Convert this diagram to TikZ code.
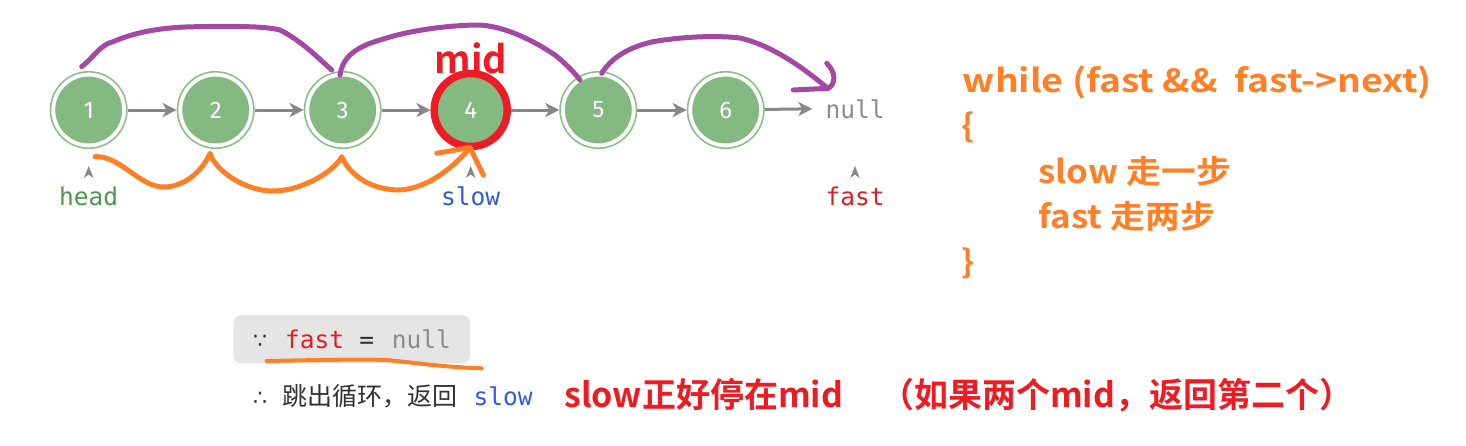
\documentclass[tikz,border=0pt]{standalone}
\usepackage{fontspec}
\setmainfont{Fira Sans}
\newfontfamily\monofont{DejaVu Sans Mono}
\newfontfamily\symfont{DejaVu Sans}
\newfontfamily\cjk{Noto Sans CJK SC}
\newfontfamily\cjkb{Noto Sans CJK SC Bold}
\newfontfamily\cjkbwide{Noto Sans CJK SC Bold}[FakeStretch=1.164]
\newfontfamily\cjkbmid{Noto Sans CJK SC Bold}[FakeStretch=1.09]
\usetikzlibrary{arrows.meta}
\definecolor{nodegreen}{RGB}{132,186,130}
\definecolor{ringgreen}{RGB}{140,192,138}
\definecolor{arrgray}{RGB}{136,136,136}
\definecolor{midred}{RGB}{237,28,36}
\definecolor{fastred}{RGB}{220,30,40}
\definecolor{slowblue}{RGB}{50,90,220}
\definecolor{headgreen}{RGB}{80,150,80}
\definecolor{codeorange}{RGB}{255,127,39}
\definecolor{hpurple}{RGB}{163,73,164}
\definecolor{boxgray}{RGB}{229,229,229}
\definecolor{txtgray}{RGB}{50,50,50}
\definecolor{nullgray}{RGB}{140,140,140}
\tikzset{
  lnode/.style={circle, fill=nodegreen, draw=white, line width=3.5pt, minimum size=70.5pt, inner sep=0pt, outer sep=3.8pt, text=white, font=\fontsize{24}{28}\selectfont},
  ring/.style={draw=ringgreen, line width=1.6pt},
  arr/.style={draw=arrgray, line width=3pt, -{Stealth[length=14pt,width=14pt,inset=4pt]}},
  mono/.style={font=\monofont\fontsize{24.5}{28}\selectfont, inner sep=0pt},
  marker/.style={fill=arrgray},
  purple/.style={draw=hpurple, line width=5pt, line cap=round, line join=round},
  orange/.style={draw=codeorange, line width=5pt, line cap=round, line join=round},
  code/.style={font=\cjkbmid\fontsize{32}{36}\selectfont, text=codeorange, anchor=base west, inner sep=0pt},
  redtxt/.style={font=\cjkb\fontsize{34}{38}\selectfont, text=midred, anchor=base west, inner sep=0pt},
}
\begin{document}
\begin{tikzpicture}[x=1pt,y=-1pt]
\useasboundingbox (0,0) rectangle (1466,445);
% list nodes
\foreach \i/\x in {1/88.7,2/215.7,3/342.7,5/598.3,6/725.7}{
  \node[lnode] (n\i) at (\x,110) {\i};
  \draw[ring] (n\i.center) circle (38.2);
}
\node[lnode, draw=midred, line width=7.5pt, minimum size=73pt, outer sep=3.7pt] (n4) at (470.7,110) {4};
\node[mono, text=nullgray, anchor=base] (null) at (855,118) {null};
\draw[arr] (n1) -- (n2);
\draw[arr] (n2) -- (n3);
\draw[arr] (n3) -- (n4);
\draw[arr] (n4) -- (n5);
\draw[arr] (n5) -- (n6);
\draw[arr] (n6) -- ([xshift=-13pt]null.west);
% mid label
\node[font=\cjkb\fontsize{38}{40}\selectfont, text=midred, anchor=base, inner sep=0pt] (mid) at (471,73) {mid};
% pointer labels
\node[mono, text=headgreen, anchor=base] (head) at (88.7,205) {head};
\node[mono, text=slowblue, anchor=base] (slow) at (470.7,205) {slow};
\node[mono, text=fastred, anchor=base] (fast) at (855,205) {fast};
\foreach \p/\x in {head/88.7,slow/470.7,fast/855}{
  \fill[marker] (\x,166) -- (\x+4.8,178) -- (\x,174.5) -- (\x-4.8,178) -- cycle;
}
% purple hops (fast)
\draw[purple] (81.7,66.7) .. controls (95,56) and (100,45) .. (113,41.7)
  .. controls (140,30) and (170,27) .. (196.7,26.7)
  .. controls (230,26) and (265,26) .. (280,30)
  .. controls (300,40) and (315,55) .. (331.7,70);
\draw[purple] (340,75) .. controls (342,60) and (352,48) .. (380,40)
  .. controls (410,30) and (450,25) .. (480,25)
  .. controls (510,27) and (540,45) .. (555,55)
  .. controls (565,63) and (575,73) .. (580,80);
\draw[purple] (601.7,73.3) .. controls (610,60) and (625,48) .. (653,41.7)
  .. controls (680,37) and (715,35) .. (740,38)
  .. controls (770,45) and (800,65) .. (826.7,87.5);
\draw[purple] (826.7,63.3) .. controls (836,72) and (836,84) .. (828.3,88.3) -- (793.3,90);
% orange hops (slow)
\draw[orange] (95,156.7) .. controls (120,155) and (140,188) .. (165,187)
  .. controls (190,186) and (205,165) .. (210,153.3)
  .. controls (215,170) and (245,192) .. (275,191)
  .. controls (305,190) and (335,170) .. (341.7,156.7)
  .. controls (350,175) and (370,190) .. (400,190)
  .. controls (430,188) and (455,165) .. (470,148);
\draw[orange] (436.7,153.3) -- (470,147.5) -- (483.3,175);
% right code block
\node[code, font=\cjkbwide\fontsize{32}{36}\selectfont] (c1) at (962.7,92.7) {while (fast \&\&\ \ fast->next)};
\node[code] (c2) at (961.7,137.7) {\{};
\node[code] (c3) at (1038.3,183.3) {slow 走一步};
\node[code] (c4) at (1038.3,228.3) {fast 走两步};
\node[code] (c5) at (961.7,273) {\}};
% bottom explanation
\fill[boxgray, rounded corners=8pt] (233.3,315) rectangle (470,363.3);
\node[font=\symfont\fontsize{22}{26}\selectfont, text=txtgray, anchor=base, inner sep=0pt] (because) at (260,348) {∵};
\node[mono, text=fastred, anchor=base west] (bfast) at (285,348) {fast};
\node[mono, text=txtgray, anchor=base] (eq) at (366.7,348) {=};
\node[mono, text=nullgray, anchor=base west] (bnull) at (391.7,348) {null};
\draw[orange, line width=4pt] (266.7,361) .. controls (320,360) and (360,359) .. (386.7,360)
  .. controls (410,362) and (440,367) .. (481.7,368.3);
\node[font=\symfont\fontsize{22}{26}\selectfont, text=txtgray, anchor=base, inner sep=0pt] (therefore) at (260,405) {∴};
\node[font=\cjk\fontsize{25}{28}\selectfont, text=txtgray, anchor=base west, inner sep=0pt] (jump) at (282.5,405) {跳出循环，返回};
\node[mono, text=slowblue, anchor=base west] (bslow) at (473.3,405) {slow};
\node[redtxt] (r1) at (564,407.3) {slow正好停在mid};
\node[redtxt] (r2) at (880,407.3) {（如果两个mid，返回第二个）};
\end{tikzpicture}
\end{document}
